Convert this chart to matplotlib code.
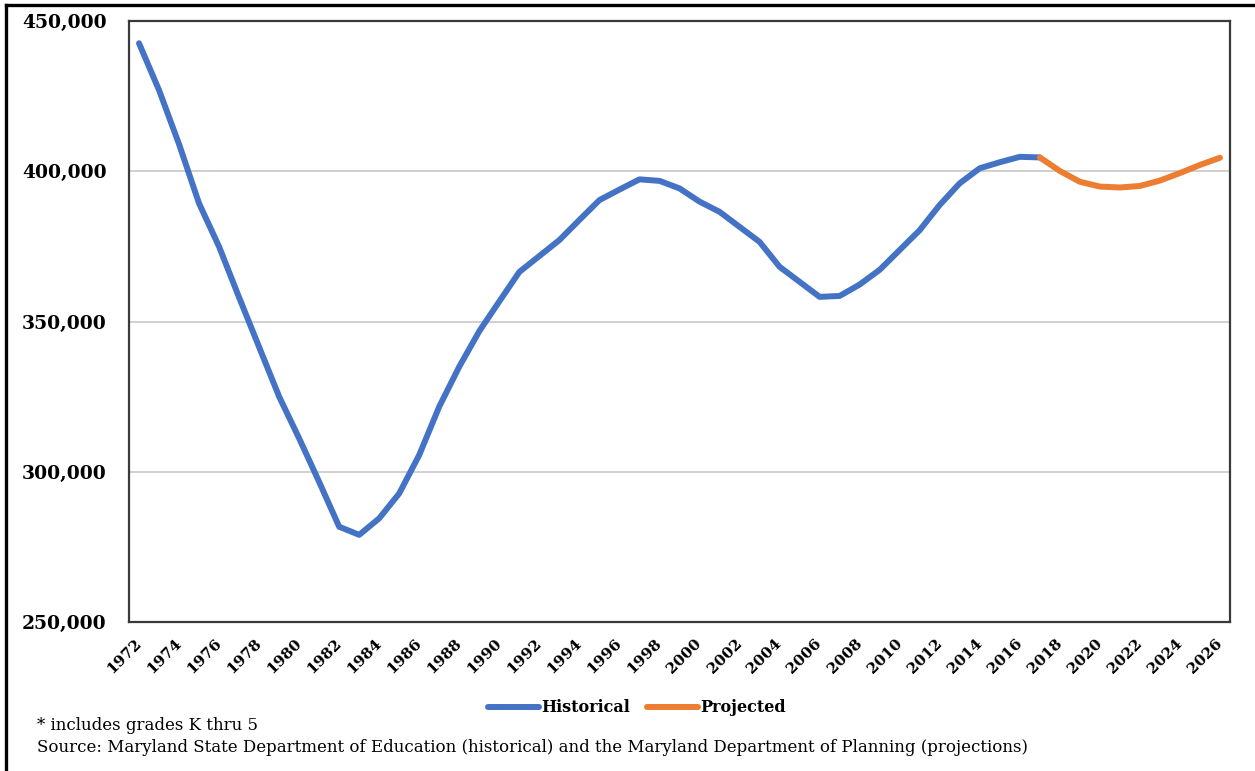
import matplotlib
matplotlib.use("Agg")
import matplotlib.pyplot as plt
from matplotlib.lines import Line2D
from matplotlib.ticker import FuncFormatter, FixedLocator
from matplotlib.transforms import ScaledTranslation

# ---- data ----
hist_years = list(range(1972, 2018))
hist_values = [442600, 427000, 409000, 389300, 374900, 358000, 341500, 325000,
               311100, 296600, 281700, 279000, 284500, 292800, 305600, 321700,
               335000, 346800, 356700, 366500, 371800, 377100, 383800, 390400,
               393900, 397300, 396800, 394300, 389900, 386500, 381500, 376500,
               368200, 363200, 358200, 358500, 362300, 367200, 373800, 380400,
               388800, 396000, 401000, 403000, 404800, 404600]
proj_years = list(range(2017, 2027))
proj_values = [404600, 400100, 396500, 394900, 394600, 395100, 396900, 399400,
               402100, 404500]
x_tick_years = list(range(1972, 2027, 2))
y_ticks = [250000, 300000, 350000, 400000, 450000]
series_names = ["Historical", "Projected"]
footnote_1 = "* includes grades K thru 5"
footnote_2 = ("Source: Maryland State Department of Education (historical) and the "
              "Maryland Department of Planning (projections)")

W, H = 1255, 771
fig = plt.figure(figsize=(W / 100, H / 100), dpi=100)
fig.patch.set_facecolor("white")

ax = fig.add_axes([129 / W, 1 - 622 / H, 1101 / W, 601 / H])
blue = "#4472C4"
orange = "#ED7D31"
ax.plot(hist_years, hist_values, color=blue, lw=4.3, solid_joinstyle="round",
        solid_capstyle="round", label=series_names[0], zorder=3)
ax.plot(proj_years, proj_values, color=orange, lw=4.3, solid_joinstyle="round",
        solid_capstyle="round", label=series_names[1], zorder=3)

ax.set_xlim(1971.5, 2026.5)
ax.set_ylim(250000, 450000)
ax.yaxis.set_major_locator(FixedLocator(y_ticks))
ax.yaxis.set_major_formatter(FuncFormatter(lambda v, p: f"{int(v):,}"))
ax.set_xticks(x_tick_years)
ax.set_xticklabels([str(y) for y in x_tick_years], rotation=45, ha="right",
                   va="center", rotation_mode="anchor",
                   fontfamily="DejaVu Serif", fontweight="bold", fontsize=11)
shift = ScaledTranslation(4 / 100, 0, fig.dpi_scale_trans)
for lab in ax.get_xticklabels():
    lab.set_transform(lab.get_transform() + shift)
for lab in ax.get_yticklabels():
    lab.set_fontfamily("DejaVu Serif")
    lab.set_fontweight("bold")
    lab.set_fontsize(13.5)
ax.tick_params(axis="y", length=0, pad=16)
ax.tick_params(axis="x", length=0, pad=14)
ax.grid(axis="y", color="#D0D0D0", lw=1.4, zorder=0)
ax.set_axisbelow(True)
for s in ax.spines.values():
    s.set_color("#3A3A3A")
    s.set_linewidth(1.6)

leg = fig.legend(loc="center", bbox_to_anchor=(637 / W, 1 - 708 / H), ncol=2,
                 frameon=False, handlelength=3.2, handletextpad=0.1,
                 columnspacing=1.1,
                 prop={"family": "DejaVu Serif", "weight": "bold", "size": 11.5})

fig.text(37 / W, 1 - 726 / H, footnote_1, ha="left", va="center",
         fontfamily="DejaVu Serif", fontsize=12)
fig.text(37 / W, 1 - 747 / H, footnote_2, ha="left", va="center",
         fontfamily="DejaVu Serif", fontsize=12)

# outer frame (top and left edges visible)
fig.add_artist(Line2D([6 / W, 1], [1 - 5 / H, 1 - 5 / H], transform=fig.transFigure,
                      color="black", lw=2.4))
fig.add_artist(Line2D([6 / W, 6 / W], [0, 1 - 5 / H], transform=fig.transFigure,
                      color="black", lw=2.4))

fig.savefig("out.png", dpi=100)
